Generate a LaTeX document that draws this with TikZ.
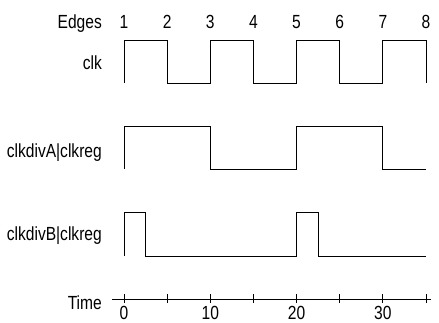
\documentclass[tikz,border=0pt]{standalone}
\usepackage{fontspec}
\setmainfont[FakeStretch=0.82]{Liberation Sans}
\begin{document}
\begin{tikzpicture}[x=1pt,y=-1pt,font=\fontsize{19}{21}\selectfont,
  lbl/.style={anchor=base east,inner sep=0pt},
  num/.style={anchor=base,inner sep=0pt},
  wave/.style={line width=0.9pt}]
\useasboundingbox (0,0) rectangle (439,322);
% signal names
\node[lbl] (edges) at (102,28) {Edges};
\node[lbl] (clk) at (102,69) {clk};
\node[lbl] (diva) at (102,157) {clkdivA|clkreg};
\node[lbl] (divb) at (102,240) {clkdivB|clkreg};
\node[lbl] (time) at (102,309) {Time};
% edge numbers
\foreach \n in {1,...,8}
  \node[num] (e\n) at ({124+(\n-1)*43.14},28) {\n};
% waveforms
\draw[wave] (124,83) -- (124,40) -- (167.1,40) -- (167.1,83) -- (210.3,83) -- (210.3,40) -- (253.4,40) -- (253.4,83) -- (296.6,83) -- (296.6,40) -- (339.7,40) -- (339.7,83) -- (382.9,83) -- (382.9,40) -- (426,40) -- (426,83); %clk
\draw[wave] (124,169) -- (124,126) -- (210.3,126) -- (210.3,169) -- (296.6,169) -- (296.6,126) -- (382.9,126) -- (382.9,169) -- (426,169); %clkdivA
\draw[wave] (124,256) -- (124,212) -- (145.6,212) -- (145.6,256) -- (296.6,256) -- (296.6,212) -- (318.2,212) -- (318.2,256) -- (426,256); %clkdivB
% time axis
\draw[wave] (112,299) -- (431,299);
\foreach \t in {0,5,...,35}
  \draw[wave] ({124+\t*8.629},294) -- ({124+\t*8.629},303);
\foreach \t in {0,10,20,30}
  \node[num] (t\t) at ({124+\t*8.629},319) {\t};
\end{tikzpicture}
\end{document}
